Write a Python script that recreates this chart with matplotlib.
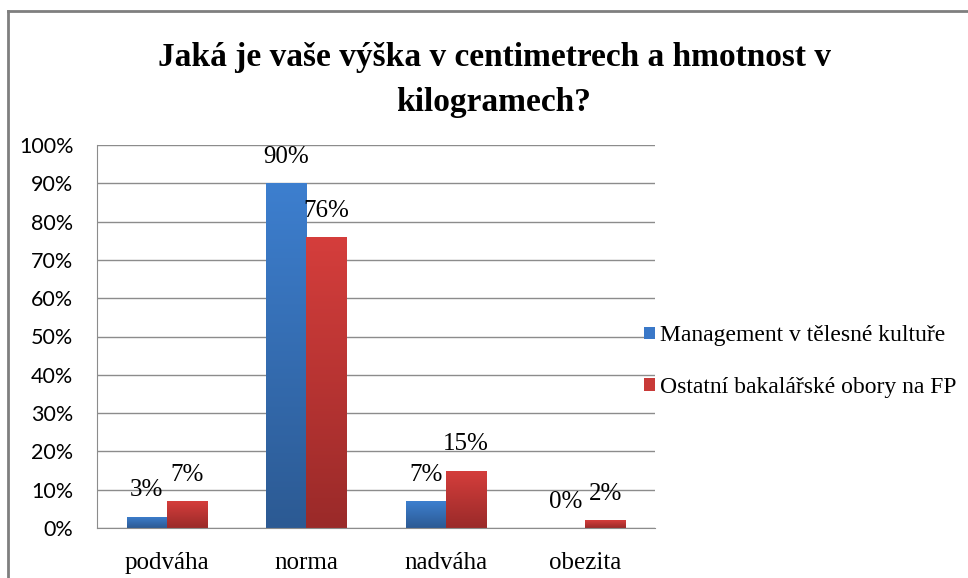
import numpy as np
import matplotlib.pyplot as plt
from matplotlib.colors import LinearSegmentedColormap
from matplotlib.patches import Patch

kategorie = ['podváha', 'norma', 'nadváha', 'obezita']
management = [3, 90, 7, 0]
ostatni = [7, 76, 15, 2]
serie = ['Management v tělesné kultuře', 'Ostatní bakalářské obory na FP']
y_ticks = [0, 10, 20, 30, 40, 50, 60, 70, 80, 90, 100]

serif = ['Liberation Serif', 'DejaVu Serif']
sans = ['Lato', 'DejaVu Sans']

fig = plt.figure(figsize=(9.68, 5.78), dpi=100)
ax = fig.add_axes([97 / 968, 1 - 528 / 578, 558 / 968, 383 / 578])

x = np.arange(len(kategorie))
w = 0.287
b1 = ax.bar(x - w / 2, management, w, color='#3a78c8', label=serie[0])
b2 = ax.bar(x + w / 2, ostatni, w, color='#c83a38', label=serie[1])


def gradient(bars, top, bottom):
    cmap = LinearSegmentedColormap.from_list('g', [bottom, top])
    grad = np.linspace(0, 1, 256).reshape(-1, 1)
    for bar in bars:
        h = bar.get_height()
        if h <= 0:
            continue
        im = ax.imshow(grad, cmap=cmap, aspect='auto', origin='lower',
                       extent=(bar.get_x(), bar.get_x() + bar.get_width(), 0, h),
                       zorder=bar.get_zorder())
        im.set_clip_path(bar)


gradient(b1, '#3d7fcf', '#2c5a93')
gradient(b2, '#d53e3c', '#9a2a29')

for bars in (b1, b2):
    for bar in bars:
        ax.annotate(f'{bar.get_height():.0f}%',
                    (bar.get_x() + bar.get_width() / 2, bar.get_height()),
                    xytext=(0, 19), textcoords='offset points',
                    ha='center', va='center', fontsize=18, family=serif)

ax.set_xlim(-0.5, len(kategorie) - 0.5)
ax.set_ylim(0, 100)
ax.set_yticks(y_ticks)
ax.set_yticklabels([f'{t}%' for t in y_ticks], family=sans, fontsize=15.5)
ax.set_xticks(x)
ax.set_xticklabels(kategorie, family=serif, fontsize=18)
ax.tick_params(axis='y', length=0, pad=17)
ax.tick_params(axis='x', length=0, pad=17)
ax.yaxis.grid(True, color='#8c8c8c', linewidth=1)
ax.set_axisbelow(True)
for s in ('top', 'right'):
    ax.spines[s].set_visible(False)
ax.spines['left'].set_color('#8c8c8c')
ax.spines['bottom'].set_color('#8c8c8c')

handles = [Patch(facecolor='#3a78c8'), Patch(facecolor='#c83a38')]
fig.legend(handles, serie, loc='upper left', bbox_to_anchor=(635 / 968, 1 - 316 / 578),
           frameon=False, prop={'family': serif, 'size': 17},
           handlelength=0.45, handleheight=0.45, handletextpad=0.2,
           labelspacing=1.3, borderaxespad=0)

fig.text(494 / 968, 1 - 80 / 578,
         'Jaká je vaše výška v centimetrech a hmotnost v\nkilogramech?',
         ha='center', va='center', fontsize=24, fontweight='bold',
         family=serif, linespacing=1.6)

# ramecek grafu (pravy a dolni okraj jsou oriznute)
fig.add_artist(plt.Line2D([8 / 968, 8 / 968], [0, 1 - 11 / 578], color='#7f7f7f',
                          linewidth=2, transform=fig.transFigure))
fig.add_artist(plt.Line2D([8 / 968, 1], [1 - 11 / 578, 1 - 11 / 578], color='#7f7f7f',
                          linewidth=2, transform=fig.transFigure))

fig.savefig('out.png', dpi=100)
